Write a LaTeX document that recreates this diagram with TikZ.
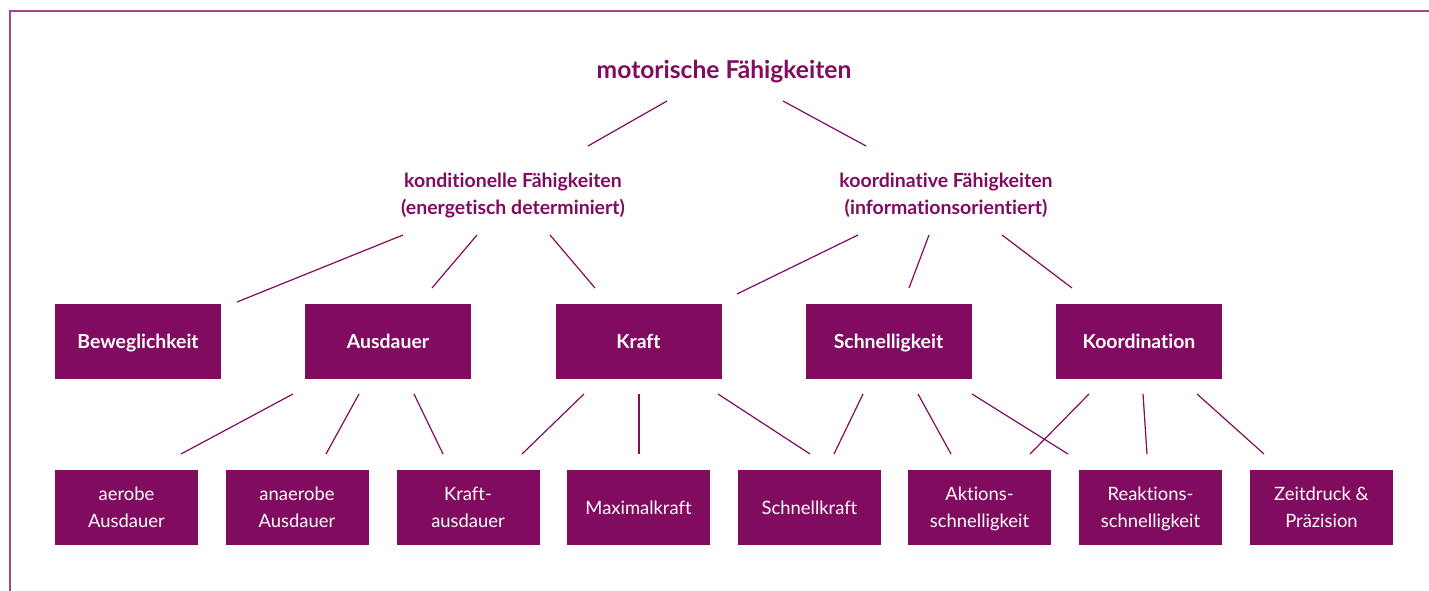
\documentclass[tikz,border=0pt]{standalone}
\usepackage{fontspec}
\setmainfont{Lato}[Ligatures={NoCommon,NoContextual}]
\definecolor{mag}{RGB}{128,11,95}
\begin{document}
\begin{tikzpicture}[x=1pt,y=-1pt,
 conn/.style={draw=mag, line width=1.2pt},
 head/.style={text=mag, font=\bfseries\fontsize{24.6}{28}\selectfont},
 sub/.style={text=mag, font=\bfseries\fontsize{19.5}{27}\selectfont, align=center},
 topbox/.style={fill=mag, text=white, minimum width=166pt, minimum height=75pt, inner sep=0pt, text height=14pt, text depth=0pt, font=\bfseries\fontsize{19.4}{22}\selectfont},
 botbox/.style={fill=mag, text=white, minimum width=143pt, minimum height=75pt, inner sep=0pt, text depth=0pt, align=center, font=\fontsize{18.4}{27}\selectfont}]
\useasboundingbox (0,0) rectangle (1429,591);
\draw[mag!75, line width=1.6pt] (1429,11) -- (10,11) -- (10,591);

\node[head, anchor=base] (mf) at (724,79) {motorische Fähigkeiten};
\node[sub] (kond) at (513,195.5) {konditionelle Fähigkeiten\\(energetisch determiniert)};
\node[sub] (koord) at (946,195.5) {koordinative Fähigkeiten\\(informationsorientiert)};

\node[topbox] (bew) at (138,341.5) {Beweglichkeit};
\node[topbox] (aus) at (388,341.5) {Ausdauer};
\node[topbox] (kra) at (638.5,341.5) {Kraft};
\node[topbox] (sch) at (888.5,341.5) {Schnelligkeit};
\node[topbox] (koo) at (1139,341.5) {Koordination};

\node[botbox] (aer) at (126.5,507.5) {aerobe\\Ausdauer};
\node[botbox] (ana) at (297,507.5) {anaerobe\\Ausdauer};
\node[botbox] (kau) at (468,507.5) {Kraft-\\ausdauer};
\node[botbox] (max) at (638.5,507.5) {Maximalkraft};
\node[botbox] (snk) at (809.5,507.5) {Schnellkraft};
\node[botbox] (akt) at (979.5,507.5) {Aktions-\\schnelligkeit};
\node[botbox] (rea) at (1150.5,507.5) {Reaktions-\\schnelligkeit};
\node[botbox] (zei) at (1321.5,507.5) {Zeitdruck \&\\Präzision};

% level 0 -> 1
\coordinate (m1) at (667,101); \coordinate (m1e) at (588,146);
\coordinate (m2) at (783,101); \coordinate (m2e) at (866,146);
\draw[conn] (m1) -- (m1e);
\draw[conn] (m2) -- (m2e);
% konditionelle
\coordinate (k1) at (403,235); \coordinate (k1e) at (237,302);
\coordinate (k2) at (477,235); \coordinate (k2e) at (432,288);
\coordinate (k3) at (550,235); \coordinate (k3e) at (595,288);
\draw[conn] (k1) -- (k1e);
\draw[conn] (k2) -- (k2e);
\draw[conn] (k3) -- (k3e);
% koordinative
\coordinate (o1) at (858,235); \coordinate (o1e) at (737,294);
\coordinate (o2) at (929,235); \coordinate (o2e) at (909,288);
\coordinate (o3) at (1002,235); \coordinate (o3e) at (1072,288);
\draw[conn] (o1) -- (o1e);
\draw[conn] (o2) -- (o2e);
\draw[conn] (o3) -- (o3e);
% Ausdauer
\coordinate (a1) at (293,394); \coordinate (a1e) at (181,454);
\coordinate (a2) at (359,394); \coordinate (a2e) at (326,454);
\coordinate (a3) at (414,394); \coordinate (a3e) at (443,454);
\draw[conn] (a1) -- (a1e);
\draw[conn] (a2) -- (a2e);
\draw[conn] (a3) -- (a3e);
% Kraft
\coordinate (r1) at (584,394); \coordinate (r1e) at (522,454);
\coordinate (r2) at (639,394); \coordinate (r2e) at (639,454);
\coordinate (r3) at (718,394); \coordinate (r3e) at (810,454);
\draw[conn] (r1) -- (r1e);
\draw[conn] (r2) -- (r2e);
\draw[conn] (r3) -- (r3e);
% Schnelligkeit
\coordinate (s1) at (863,394); \coordinate (s1e) at (834,454);
\coordinate (s2) at (918,394); \coordinate (s2e) at (951,454);
\coordinate (s3) at (972,394); \coordinate (s3e) at (1068,454);
\draw[conn] (s1) -- (s1e);
\draw[conn] (s2) -- (s2e);
\draw[conn] (s3) -- (s3e);
% Koordination
\coordinate (c1) at (1089,394); \coordinate (c1e) at (1030,454);
\coordinate (c2) at (1143,394); \coordinate (c2e) at (1147,454);
\coordinate (c3) at (1197,394); \coordinate (c3e) at (1264,454);
\draw[conn] (c1) -- (c1e);
\draw[conn] (c2) -- (c2e);
\draw[conn] (c3) -- (c3e);
\end{tikzpicture}
\end{document}
